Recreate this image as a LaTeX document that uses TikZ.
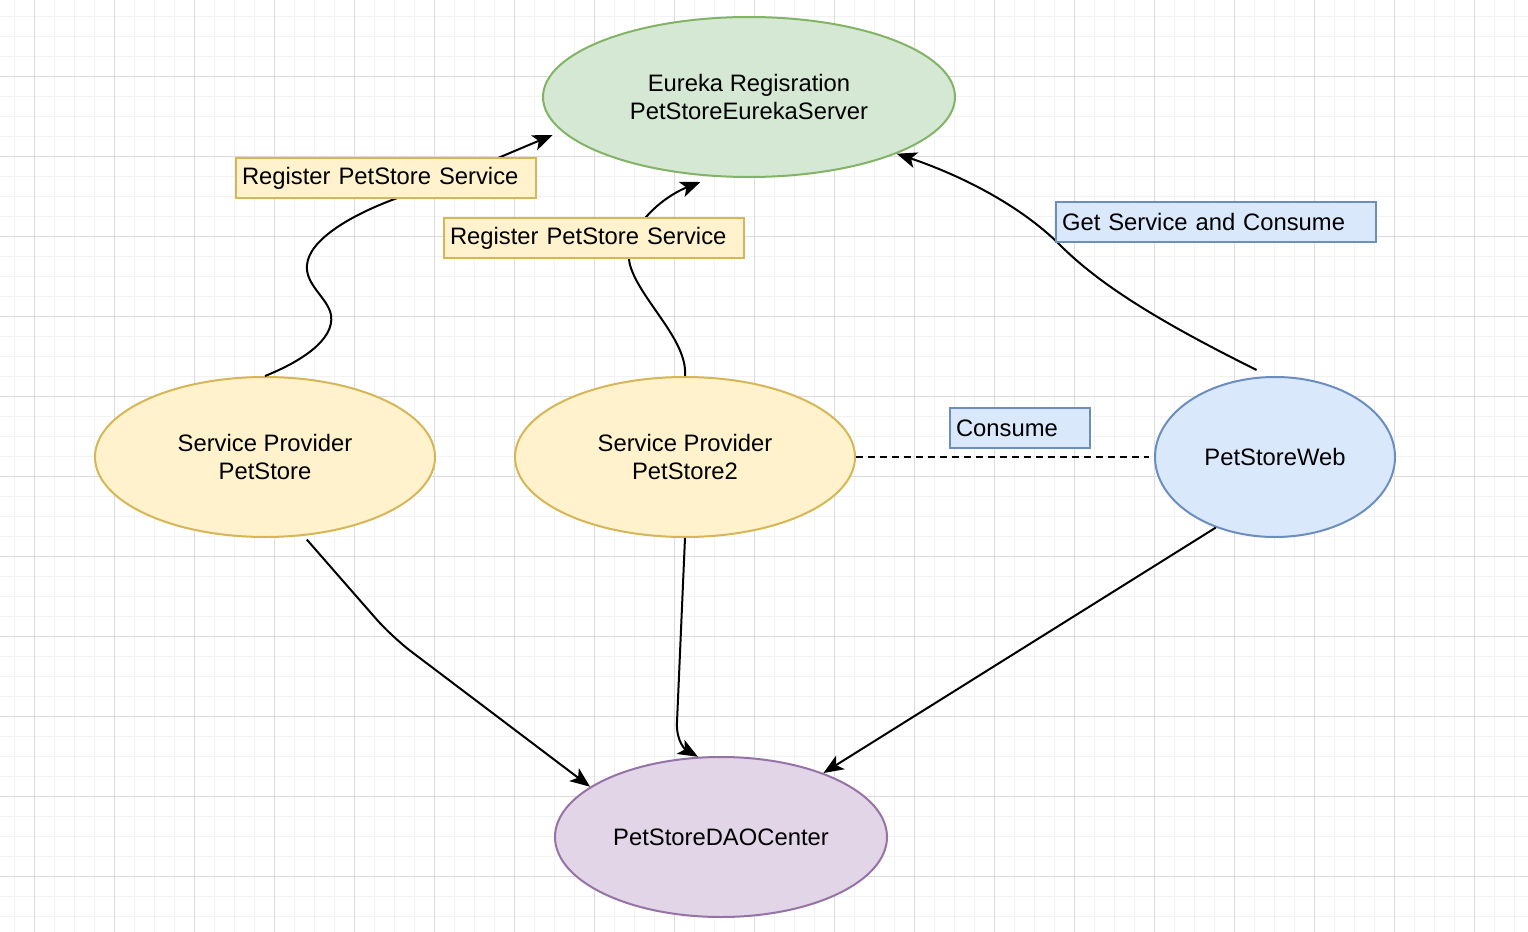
\documentclass[tikz,border=0pt]{standalone}
\usepackage{fontspec}
\setmainfont{Liberation Sans}
\usetikzlibrary{shapes.geometric,arrows.meta}
\definecolor{greenfill}{HTML}{D5E8D4}
\definecolor{greenline}{HTML}{82B366}
\definecolor{yellowfill}{HTML}{FFF2CC}
\definecolor{yellowline}{HTML}{D6B656}
\definecolor{bluefill}{HTML}{DAE8FC}
\definecolor{blueline}{HTML}{6C8EBF}
\definecolor{purplefill}{HTML}{E1D5E7}
\definecolor{purpleline}{HTML}{9673A6}
\definecolor{gridminor}{HTML}{F2F2F2}
\definecolor{gridmajor}{HTML}{DCDCDC}

\begin{document}
\begin{tikzpicture}[x=0.5pt,y=-0.5pt,font=\fontsize{11.9pt}{14pt}\selectfont,
  blob/.style={ellipse,draw=#1line,fill=#1fill,line width=1pt,inner sep=0pt,align=center,minimum height=80pt},
  tag/.style={draw=#1line,fill=#1fill,line width=1pt,anchor=north west,minimum height=20pt,inner xsep=3pt,inner ysep=0pt,align=left},
  link/.style={line width=1pt,-{Stealth[length=10pt,width=8pt,inset=2.5pt]}}]
\useasboundingbox (0,0) rectangle (1528,932);
\fill[white] (0,0) rectangle (1528,932);
\foreach \x in {14,34,...,1514} \draw[gridminor,line width=0.5pt] (\x,0) -- (\x,932);
\foreach \y in {16,36,...,916} \draw[gridminor,line width=0.5pt] (0,\y) -- (1528,\y);
\foreach \x in {34,114,...,1474} \draw[gridmajor,line width=0.5pt] (\x,0) -- (\x,932);
\foreach \y in {76,156,...,876} \draw[gridmajor,line width=0.5pt] (0,\y) -- (1528,\y);

\node[blob=green,minimum width=206pt] (eu) at (749,97) {Eureka Regisration\\PetStoreEurekaServer};
\node[blob=yellow,minimum width=170pt] (ps) at (265,457) {Service Provider\\PetStore};
\node[blob=yellow,minimum width=170pt] (ps2) at (685,457) {Service Provider\\PetStore2};
\node[blob=blue,minimum width=120pt] (web) at (1275,457) {PetStoreWeb};
\node[blob=purple,minimum width=166pt] (dao) at (721,837) {PetStoreDAOCenter};

\draw[link] (ps.north) .. controls (300,362) and (335,340) .. (331,315)
  .. controls (328,298) and (305,285) .. (307,265)
  .. controls (309,240) and (350,215) .. (400,197)
  .. controls (450,179) and (500,157) .. ([xshift=-5.5pt,yshift=-1pt]eu.191);
\draw[link] (ps2.north) .. controls (688,340) and (640,300) .. (630,265)
  .. controls (622,232) and (660,198) .. ([xshift=-1.5pt,yshift=-3pt]eu.240);
\draw[link] ([yshift=3.5pt]web.103) .. controls (1160,322) and (1100,285) .. (1060,245)
  .. controls (1020,205) and (960,175) .. (eu.339);
\draw[link,rounded corners=12pt] ([yshift=-2pt]ps.298) -- (392,637) -- (dao.159);
\draw[link] (ps2.south) -- (677,722) .. controls (676,742) and (686,750) .. (dao.106);
\draw[link] (web.230) -- (dao.32);
\draw[line width=1pt,dash pattern=on 3.5pt off 2.5pt] (ps2.east) -- ([xshift=-2.5pt]web.west);

\node[tag=yellow,text width=144pt] (reg1) at (235,157) {Register PetStore Service};
\node[tag=yellow,text width=144pt] (reg2) at (443,217) {Register PetStore Service};
\node[tag=blue,text width=154pt] (get) at (1055,201) {Get Service and Consume};
\node[tag=blue,text width=64pt] (use) at (949,407) {Consume};
\end{tikzpicture}
\end{document}
